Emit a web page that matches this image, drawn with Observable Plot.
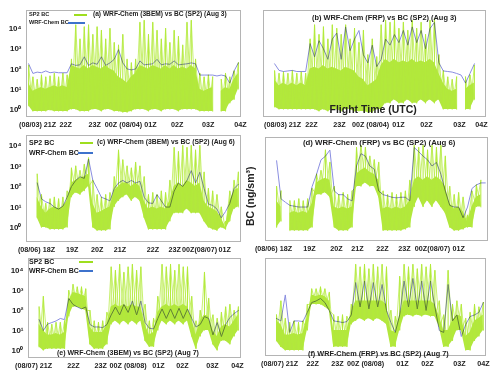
<!DOCTYPE html>
<html><head><meta charset="utf-8">
<script src="https://cdn.jsdelivr.net/npm/d3@7"></script>
<script src="https://cdn.jsdelivr.net/npm/@observablehq/plot@0.6"></script>
<style>
body{margin:0;background:#fff;font-family:"Liberation Sans",Arial,sans-serif;}
#wrap{position:relative;width:500px;height:380px;overflow:hidden;background:#fff;}
#wrap svg{position:absolute;overflow:visible;}
.lab{position:absolute;font-weight:bold;white-space:nowrap;color:#222;line-height:1;}
.key{position:absolute;height:2px;}
</style></head><body><div id="wrap"></div><script>
// sampling times (flight-time units across each panel, 0..100)
const times = [1,3,5,7,9,11,13,15,17,19,21,23,25,27,29,31,33,35,37,39,41,43,45,47,49,51,53,55,57,59,61,63,65,67,69,71,73,75,77,79,81,83,85,87,89,91,93,95,97,99];

// (a) Aug 3, 3BEM
const aLo  = [1.5,0.8,0.8,0.8,0.8,0.9,0.8,0.8,0.8,0.8, 1,1,0.8,0.8,0.8,1,1,0.8,1,1, 0.8,0.8,0.7,0.7,0.8,1,1,1,0.8,1, 1,0.8,1,1,1,0.8,1,1,1,1, 0.8,0.8,0.8,0.8,null,0.8,0.8,2,3,10];
const aMid = [20,8,10,12,10,12,15,12,15,12, 150,120,100,150,100,150,120,100,150,100, 80,40,30,20,40,60,150,120,100,150, 120,100,150,100,150,100,120,100,150,100, 10,8,10,12,null,8,12,10,30,60];
const aHi  = [150,40,30,50,40,45,60,40,60,50, 300,15000,3000,12000,15000,5000,12000,8000,3000,10000, 2000,1500,5000,300,200,300,20000,25000,5000,20000, 8000,3000,10000,2000,8000,4000,1500,20000,25000,300, 60,40,50,40,null,30,60,40,80,200];
const aMod = [180,60,70,65,80,65,70,65,65,65, 180,150,160,400,150,200,170,400,150,200, 300,900,200,100,90,100,250,160,170,180, 300,160,180,170,250,160,170,180,200,180, 50,50,50,50,45,50,45,20,80,200];

// (b) Aug 3, FRP
const bLo  = [null,null,1.3,1,1,1,1,1,1,1, 1,1,0.8,1,0.8,1,1,0.8,1,1, 0.8,0.8,0.8,0.7,0.7,1,1,2,2,3, 2,2,3,2,2,3,2,3,2,3, 1,1,1,1,null,1,1,3,null,null];
const bMid = [null,null,30,15,20,15,20,15,20,15, 100,120,100,150,100,120,100,80,120,100, 80,40,30,15,20,30,150,300,200,300, 200,250,200,300,200,250,200,300,200,60, 20,10,8,10,null,10,15,20,null,null];
const bHi  = [null,null,80,60,70,60,80,60,70,60, 3000,15000,5000,12000,3000,15000,10000,5000,15000,3000, 10000,2000,8000,500,3000,400,15000,25000,20000,25000, 10000,20000,8000,25000,10000,20000,5000,25000,30000,500, 80,40,30,40,null,40,50,150,null,null];
const bMod = [null,null,180,85,75,80,85,75,75,75, 1800,400,2500,1000,300,3000,6000,300,12000,800, 3000,8000,500,200,1500,130,300,3000,1500,5000, 2000,8000,1500,12000,2000,8000,1000,10000,20000,200, 80,75,70,60,50,20,60,180,null,null];

// (c) Aug 6, 3BEM
const cLo  = [null,null,3,1,1,0.8,0.8,0.8,0.8,1, 30,50,40,60,100,1,0.7,0.7,0.7,0.8, 10,20,30,40,20,30,20,3,0.8,0.8, 0.8,0.8,0.8,2,5,5,5,8,5,5, 5,2,1,0.8,0.7,1,0.8,2,8,10];
const cMid = [null,null,30,10,5,8,10,8,10,20, 150,200,250,300,400,15,5,6,8,10, 60,100,150,150,100,150,100,20,8,10, 8,10,8,20,100,150,100,200,150,100, 150,20,10,8,6,3,1,20,60,80];
const cHi  = [null,null,400,40,15,25,30,25,30,60, 800,1000,600,1200,2500,200,40,30,40,50, 300,6000,2000,1000,800,1500,1000,300,40,50, 40,60,50,200,8000,5000,10000,8000,10000,6000, 10000,500,80,60,40,10,2,60,200,500];
const cMod = [null,null,150,25,18,15,10,8,11,30, 100,200,300,250,2200,200,80,30,25,20, 80,150,200,150,200,150,180,30,16,15, 40,20,10,10,60,150,100,200,600,150, 500,80,14,12,8,3,6,15,80,130];

// (d) Aug 6, FRP
const dLo  = [null,null,1,2,null,0.7,0.7,0.7,0.7,0.7, 1,40,40,50,30,1,0.7,0.7,0.7,1, 100,100,150,100,100,30,0.7,0.7,0.7,0.7, 0.7,0.8,1,10,30,10,20,10,20,10, 5,1,0.7,0.7,0.8,1,1,10,10,null];
const dMid = [null,null,20,10,null,5,6,5,6,5, 15,150,200,250,200,10,8,10,8,10, 400,600,800,500,400,200,8,10,8,10, 8,10,20,200,300,200,300,200,300,200, 100,15,8,10,6,2,10,30,40,null];
const dHi  = [null,null,100,60,null,20,20,25,20,25, 80,400,600,6000,1500,100,40,50,40,60, 8000,10000,8000,3000,2000,1500,60,40,50,40, 50,60,200,10000,8000,10000,6000,10000,8000,10000, 3000,100,40,50,30,4,60,120,200,null];
const dMod = [null,null,1800,25,17,12,11,10,10,10, 100,400,2000,3000,6000,60,40,40,25,20, 1000,4000,3000,1000,700,60,40,35,30,28, 30,30,20,8000,5000,3000,2000,1000,1500,400, 60,12,10,10,3,10,80,120,150,150];

// (e) Aug 7, 3BEM
const eLo  = [null,null,1.5,1,1.2,1.2,1.2,1.2,1.2,50, 150,150,120,100,2,1.2,1.2,1.2,2,20, 30,20,30,20,30,20,30,3,1.5,1.5, 10,30,20,30,20,30,20,30,5,1.2, 5,10,10,2,1,3,3,2,5,10];
const eMid = [null,null,20,10,6,6,7,6,8,300, 800,700,600,500,15,8,8,8,20,150, 200,150,200,150,200,150,150,20,6,8, 80,150,200,150,200,150,200,150,40,6, 30,60,50,10,5,15,20,15,30,60];
const eHi  = [null,null,150,500,25,20,25,25,30,1000, 2000,1500,1500,1200,100,30,25,30,80,15000, 10000,20000,8000,15000,20000,10000,15000,200,30,40, 500,20000,15000,20000,10000,20000,15000,15000,500,30, 100,8000,400,60,40,80,150,200,100,150];
const eMod = [null,null,35,10,21,25,30,40,35,400, 200,150,120,150,20,15,15,14,20,60, 150,60,200,80,300,60,300,25,13,12, 40,120,40,120,40,130,40,120,40,15, 20,50,40,6,25,5,20,45,70,100];

// (f) Aug 7, FRP
const fLo  = [null,null,3,1.5,1,1,1,1,1,10, 200,200,200,150,100,1.5,1.5,1.5,1.5,20, 30,40,30,40,30,40,30,20,1.5,1.5, 10,50,60,50,60,50,60,50,50,15, 1.5,1.5,3,10,10,1,1,3,5,10];
const fMid = [null,null,30,20,6,6,7,6,7,50, 600,500,600,500,300,10,10,10,10,80, 300,300,300,300,300,300,300,200,10,8, 60,300,300,300,300,300,300,300,200,50, 10,10,30,60,50,5,8,30,40,60];
const fHi  = [null,null,60,300,40,25,30,25,30,200, 1200,1200,1500,1200,800,60,50,60,50,200, 20000,15000,20000,12000,20000,15000,20000,15000,100,50, 5000,20000,15000,20000,12000,20000,15000,20000,10000,300, 60,10000,200,300,200,40,80,200,150,250];
const fMod = [null,null,40,30,600,8,30,30,28,80, 250,300,400,250,100,30,28,25,28,60, 2500,150,3000,120,2500,150,2000,100,25,8, 60,3000,150,4000,120,3000,100,3000,150,10, 8,2000,30,60,5,20,50,60,80,250];

// tick labels
const yTicks = [1,10,100,1000,10000];
const yTickLabels = ["10⁰","10¹","10²","10³","10⁴"];
const labelsAug3 = ["(08/03) 21Z","22Z","23Z","00Z (08/04)","01Z","02Z","03Z","04Z"];
const labelsAug6 = ["(08/06) 18Z","19Z","20Z","21Z","22Z","23Z","00Z(08/07)","01Z"];
const labelsAug7 = ["(08/07) 21Z","22Z","23Z","00Z (08/08)","01Z","02Z","03Z","04Z"];
const ticksA = [5.2,18.3,31.9,45.3,57.9,70.4,84.9,100];
const ticksB = [8.6,21.6,34.2,48.2,60.8,73.4,88.3,98.2];
const ticksC = [4.7,21.4,33.0,43.7,59.1,69.3,80.9,92.6];
const ticksD = [3.6,19.8,32.0,41.4,52.7,62.6,75.2,87.0];
const ticksE = [2.4,21.2,34,47,61.3,72.6,86.8,98.6];
const ticksF = [6.4,21.4,32.7,45.5,62.3,73.6,88.2,99.1];

const titles = [
  "(a) WRF-Chem (3BEM) vs BC (SP2) (Aug 3)",
  "(b) WRF-Chem (FRP) vs BC (SP2) (Aug 3)",
  "(c) WRF-Chem (3BEM) vs BC (SP2) (Aug 6)",
  "(d) WRF-Chem (FRP) vs BC (SP2) (Aug 6)",
  "(e) WRF-Chem (3BEM) vs BC (SP2) (Aug 7)",
  "(f) WRF-Chem (FRP) vs BC (SP2) (Aug 7)"
];

const G_FILL = "#a4e21c", G_LINE = "#b2ea3a", MODEL = "#8a8ee0", FRAME = "#b4b4b4", KEYBLUE = "#3d72cc";

const panels = [
  {lo:aLo, mid:aMid, hi:aHi, mod:aMod, frame:[26,10,240,116], y:[0.447,77600], ticks:ticksA, labels:labelsAug3, yAxis:true,
   title:[titles[0],93,15,6.6], legend:{x:29, y1:15, y2:23, fs:5.6, g:[74,13], b:[68,17]}},
  {lo:bLo, mid:bMid, hi:bHi, mod:bMod, frame:[263,10,485,116], y:[0.447,77600], ticks:ticksB, labels:labelsAug3, yAxis:false,
   title:[titles[1],312,18,7.4]},
  {lo:cLo, mid:cMid, hi:cHi, mod:cMod, frame:[26,135,240,241], y:[0.209,30900], ticks:ticksC, labels:labelsAug6, yAxis:true,
   title:[titles[2],97,143,6.8], legend:{x:29, y1:143, y2:153, fs:7, g:[80,13], b:[78,15]}},
  {lo:dLo, mid:dMid, hi:dHi, mod:dMod, frame:[265,137,487,240], y:[0.234,24500], ticks:ticksD, labels:labelsAug6, yAxis:false,
   title:[titles[3],303,143,7.8]},
  {lo:eLo, mid:eMid, hi:eHi, mod:eMod, frame:[28,258,240,357], y:[0.447,39800], ticks:ticksE, labels:labelsAug7, yAxis:true,
   title:[titles[4],57,353,7], legend:{x:29, y1:262, y2:271, fs:7, g:[79,14], b:[79,14]}},
  {lo:fLo, mid:fMid, hi:fHi, mod:fMod, frame:[265,258,485,355], y:[0.562,39800], ticks:ticksF, labels:labelsAug7, yAxis:false,
   title:[titles[5],308,354,7.3]}
];

const wrap = document.getElementById("wrap");
function label(text, left, cy, fs, color) {
  const d = document.createElement("div");
  d.className = "lab";
  d.textContent = text;
  d.style.left = left + "px";
  d.style.top = (cy - fs * 0.55) + "px";
  d.style.fontSize = fs + "px";
  if (color) d.style.color = color;
  wrap.appendChild(d);
  return d;
}
function key(left, cy, w, color) {
  const d = document.createElement("div");
  d.className = "key";
  d.style.left = left + "px";
  d.style.top = (cy - 1) + "px";
  d.style.width = w + "px";
  d.style.background = color;
  wrap.appendChild(d);
}

for (const p of panels) {
  const [fl, ft, fr, fb] = p.frame;
  const mL = p.yAxis ? 26 : 16, mR = 14, mT = 4, mB = 18;
  const rows = times.map((t, i) => ({t, lo: p.lo[i], mid: p.mid[i], hi: p.hi[i], m: p.mod[i]}));
  // the measured series oscillates between its low and high readings at every sample
  const zigA = rows.map((r, i) => ({t: r.t, y: i % 2 ? r.lo : r.hi}));
  const zigB = rows.map((r, i) => ({t: r.t, y: i % 2 ? r.hi : r.lo}));
  const tickMap = new Map(p.ticks.map((d, i) => [d, p.labels[i]]));
  const yMap = new Map(yTicks.map((d, i) => [d, yTickLabels[i]]));
  const marks = [
    Plot.areaY(rows, {x: "t", y1: "lo", y2: "mid", fill: G_FILL, fillOpacity: 0.85}),
    Plot.line(zigA, {x: "t", y: "y", stroke: G_LINE, strokeWidth: 0.8, strokeOpacity: 0.9}),
    Plot.line(zigB, {x: "t", y: "y", stroke: G_LINE, strokeWidth: 0.8, strokeOpacity: 0.9}),
    Plot.ruleX(rows, {x: "t", y1: "lo", y2: "hi", stroke: G_LINE, strokeWidth: 1}),
    Plot.line(rows, {x: "t", y: "m", stroke: MODEL, strokeWidth: 1, mixBlendMode: "multiply"}),
    Plot.frame({stroke: FRAME}),
    Plot.axisX({ticks: p.ticks, tickFormat: d => tickMap.get(d), tickSize: 0, tickPadding: 5, fontSize: 7.2, fontWeight: "bold", fill: "#222", label: null})
  ];
  if (p.yAxis) marks.push(Plot.axisY({ticks: yTicks, tickFormat: d => yMap.get(d), tickSize: 0, tickPadding: 5, fontSize: 8, fontWeight: "bold", fill: "#222", label: null}));
  const svg = Plot.plot({
    width: fr - fl + mL + mR, height: fb - ft + mT + mB,
    marginLeft: mL, marginRight: mR, marginTop: mT, marginBottom: mB,
    style: {fontFamily: "'Liberation Sans', Arial, sans-serif", fontSize: "8px", fontWeight: "bold", color: "#222", background: "transparent", overflow: "visible"},
    x: {domain: [0, 100], axis: null, label: null},
    y: {type: "log", domain: p.y, axis: null, label: null},
    marks
  });
  svg.style.left = (fl - mL) + "px";
  svg.style.top = (ft - mT) + "px";
  wrap.appendChild(svg);
  const [tt, tx, ty, tfs] = p.title;
  label(tt, tx, ty, tfs);
  if (p.legend) {
    const L = p.legend;
    label("SP2  BC", L.x, L.y1, L.fs);
    label("WRF-Chem BC", L.x, L.y2, L.fs);
    key(L.g[0], L.y1, L.g[1], "#9ede1e");
    key(L.b[0], L.y2, L.b[1], KEYBLUE);
  }
}

// shared annotations
const ftl = label("Flight Time (UTC)", 0, 110, 10.5);
ftl.style.left = (373 - ftl.offsetWidth / 2) + "px";
const yl = label("BC (ng/sm³)", 0, 0, 10.5);
yl.style.left = (250 - yl.offsetWidth / 2) + "px";
yl.style.top = (196 - yl.offsetHeight / 2) + "px";
yl.style.transform = "rotate(-90deg)";
</script></body></html>
